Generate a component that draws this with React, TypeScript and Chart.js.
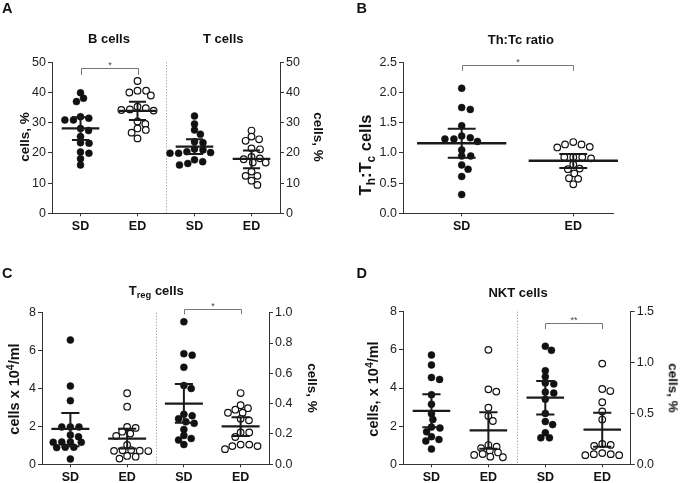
import React, { useEffect, useRef } from "react";
import { Chart, registerables } from "chart.js";
Chart.register(...registerables);

const FONT = '"Liberation Sans", Arial, Helvetica, sans-serif';

// ---------- categories ----------
const fourGroupLabels = ["SD", "ED", "SD", "ED"];
const twoGroupLabels = ["SD", "ED"];

// ---------- Panel A : B cells / T cells (%) ----------
const bCellsSD = [39.9, 38.1, 37.0, 32.0, 31.5, 30.9, 30.9, 28.1, 27.4, 25.4, 23.4, 23.2, 20.3, 19.9, 18.1, 16.0];
const bCellsED = [43.8, 40.6, 40.6, 40.0, 39.0, 35.3, 34.8, 34.4, 34.2, 34.0, 30.4, 29.6, 28.1, 27.6, 26.7, 24.8];
const tCellsSD = [32.2, 29.6, 27.6, 26.2, 23.7, 23.4, 21.3, 21.0, 20.4, 20.1, 19.9, 19.9, 17.7, 17.1, 16.5, 16.0];
const tCellsED = [27.4, 25.4, 24.5, 24.0, 21.5, 21.2, 18.7, 18.2, 17.9, 16.8, 16.8, 13.8, 12.4, 12.4, 10.8, 9.4];
const panelAMean = [28.1, 33.9, 22.1, 18.0];
const panelALow = [24.3, 30.9, 19.6, 14.9];
const panelAHigh = [31.8, 36.9, 24.5, 20.8];

// ---------- Panel B : Th:Tc ratio ----------
const ratioSD = [2.07, 1.75, 1.72, 1.45, 1.28, 1.25, 1.23, 1.23, 1.19, 1.05, 0.95, 0.95, 0.8, 0.73, 0.61, 0.31];
const ratioED = [1.18, 1.14, 1.14, 1.1, 1.09, 0.93, 0.93, 0.93, 0.91, 0.81, 0.74, 0.73, 0.66, 0.58, 0.57, 0.48];
const panelBMean = [1.16, 0.87];
const panelBLow = [0.92, 0.75];
const panelBHigh = [1.4, 0.98];

// ---------- Panel C : Treg cells ----------
const tregCountSD = [6.56, 4.13, 3.36, 1.97, 1.97, 1.97, 1.55, 1.45, 1.18, 1.18, 1.16, 1.16, 0.9, 0.9, 0.88, 0.28];
const tregCountED = [3.75, 3.04, 1.97, 1.92, 1.72, 1.62, 1.5, 1.02, 0.75, 0.74, 0.72, 0.71, 0.7, 0.44, 0.4, 0.3];
const tregPctSD = [0.94, 0.73, 0.72, 0.64, 0.52, 0.5, 0.33, 0.32, 0.3, 0.28, 0.27, 0.23, 0.19, 0.17, 0.16, 0.13];
const tregPctED = [0.47, 0.39, 0.37, 0.36, 0.34, 0.34, 0.3, 0.29, 0.21, 0.21, 0.18, 0.13, 0.13, 0.12, 0.12, 0.1];
const panelCMean = [1.87, 1.35, 0.4, 0.25];
const panelCLow = [0.95, 0.84, 0.274, 0.187];
const panelCHigh = [2.71, 1.88, 0.53, 0.31];

// ---------- Panel D : NKT cells ----------
const nktCountSD = [5.73, 5.21, 4.55, 4.45, 3.65, 3.15, 2.65, 2.35, 1.95, 1.9, 1.7, 1.45, 1.3, 1.22, 0.8];
const nktCountED = [6.0, 3.93, 3.81, 2.97, 2.53, 2.27, 1.01, 0.92, 0.85, 0.71, 0.62, 0.54, 0.49, 0.4, 0.37];
const nktPctSD = [1.16, 1.12, 0.92, 0.86, 0.8, 0.79, 0.71, 0.7, 0.64, 0.5, 0.42, 0.39, 0.31, 0.26, 0.26];
const nktPctED = [0.99, 0.74, 0.72, 0.61, 0.52, 0.44, 0.2, 0.19, 0.18, 0.11, 0.1, 0.1, 0.09, 0.09];
const panelDMean = [2.8, 1.78, 0.655, 0.34];
const panelDLow = [1.94, 0.82, 0.49, 0.173];
const panelDHigh = [3.67, 2.73, 0.82, 0.507];

// ---------- significance brackets ----------
const bracketA = { from: 1, to: 2, level: 48, drop: 2.2, axis: "y", label: "*" };
const bracketB = { from: 1, to: 2, level: 2.455, drop: 0.095, axis: "y", label: "*" };
const bracketC = { from: 3, to: 4, level: 1.024, drop: 0.035, axis: "y2", label: "*" };
const bracketD = { from: 3, to: 4, level: 1.386, drop: 0.056, axis: "y2", label: "**" };

type Group = { values: number[]; cat: number; axis: string; filled: boolean; mean: number; lo: number; hi: number };
type AxisSpec = { min: number; max: number; step: number; decimals: number };
type PanelSpec = {
  left: number; top: number; w: number; h: number;
  padding: { top: number; left: number; right: number; bottom: number };
  xMin: number; xMax: number; labels: string[];
  y: AxisSpec; y2?: AxisSpec;
  groups: Group[]; divider: boolean;
  bracket: { from: number; to: number; level: number; drop: number; axis: string; label: string };
  meanHalf: number; capHalf: number; gapX: number; gapY: number;
};

function makeGroups(vals: number[][], axes: string[], mean: number[], lo: number[], hi: number[]): Group[] {
  return vals.map((v, i) => ({ values: v, cat: i + 1, axis: axes[i], filled: i % 2 === 0, mean: mean[i], lo: lo[i], hi: hi[i] }));
}

const panels: PanelSpec[] = [
  {
    left: 0, top: 0, w: 341, h: 241,
    padding: { top: 62.3, left: 22, right: 31, bottom: 9.7 },
    xMin: 0.5, xMax: 4.5, labels: fourGroupLabels,
    y: { min: 0, max: 50, step: 10, decimals: 0 }, y2: { min: 0, max: 50, step: 10, decimals: 0 },
    groups: makeGroups([bCellsSD, bCellsED, tCellsSD, tCellsED], ["y", "y", "y2", "y2"], panelAMean, panelALow, panelAHigh),
    divider: true, bracket: bracketA, meanHalf: 0.33, capHalf: 0.15, gapX: 8.6, gapY: 5.8,
  },
  {
    left: 341, top: 0, w: 342, h: 241,
    padding: { top: 62.3, left: 32, right: 70, bottom: 9.7 },
    xMin: 0.474, xMax: 2.356, labels: twoGroupLabels,
    y: { min: 0, max: 2.5, step: 0.5, decimals: 1 },
    groups: makeGroups([ratioSD, ratioED], ["y", "y"], panelBMean, panelBLow, panelBHigh),
    divider: false, bracket: bracketB, meanHalf: 0.4, capHalf: 0.125, gapX: 9, gapY: 6,
  },
  {
    left: 0, top: 241, w: 341, h: 242,
    padding: { top: 71.7, left: 12, right: 42, bottom: 0.7 },
    xMin: 0.5, xMax: 4.5, labels: fourGroupLabels,
    y: { min: 0, max: 8, step: 2, decimals: 0 }, y2: { min: 0, max: 1, step: 0.2, decimals: 1 },
    groups: makeGroups([tregCountSD, tregCountED, tregPctSD, tregPctED], ["y", "y", "y2", "y2"], panelCMean, panelCLow, panelCHigh),
    divider: true, bracket: bracketC, meanHalf: 0.335, capHalf: 0.16, gapX: 8.6, gapY: 5.8,
  },
  {
    left: 341, top: 241, w: 342, h: 242,
    padding: { top: 70.7, left: 32, right: 22.3, bottom: 0.7 },
    xMin: 0.5, xMax: 4.5, labels: fourGroupLabels,
    y: { min: 0, max: 8, step: 2, decimals: 0 }, y2: { min: 0, max: 1.5, step: 0.5, decimals: 1 },
    groups: makeGroups([nktCountSD, nktCountED, nktPctSD, nktPctED], ["y", "y", "y2", "y2"], panelDMean, panelDLow, panelDHigh),
    divider: true, bracket: bracketD, meanHalf: 0.33, capHalf: 0.16, gapX: 8.6, gapY: 5.8,
  },
];

// Beeswarm with an elliptical spacing rule: horizontal pixel offsets so dots sit in rows
function beeswarm(py: number[], a: number, b: number): number[] {
  const order = py.map((_, i) => i).sort((p, q) => py[p] - py[q]);
  const placed: { x: number; y: number }[] = [];
  const off = new Array(py.length).fill(0);
  for (const i of order) {
    const y = py[i];
    const cands = [0];
    for (const p of placed) {
      const dy = Math.abs(p.y - y);
      if (dy < b) {
        const dx = a * Math.sqrt(1 - (dy / b) ** 2);
        cands.push(p.x + dx, p.x - dx);
      }
    }
    cands.sort((u, v) => Math.abs(u) - Math.abs(v));
    let best = 0;
    for (const c of cands) {
      if (placed.every((p) => ((p.x - c) / a) ** 2 + ((p.y - y) / b) ** 2 >= 1 - 1e-6)) { best = c; break; }
    }
    placed.push({ x: best, y });
    off[i] = best;
  }
  return off;
}

function axisOpts(a: AxisSpec, position: string) {
  return {
    type: "linear", position, min: a.min, max: a.max,
    afterFit: (s: any) => { s.width = 30; },
    ticks: {
      stepSize: a.step, padding: 2, color: "#222",
      font: { family: FONT, size: 12.5 },
      callback: (v: any) => Number(v).toFixed(a.decimals),
    },
    grid: { drawOnChartArea: false, drawTicks: true, tickLength: 4, color: "#333", tickWidth: 1 },
    border: { display: true, color: "#333", width: 1 },
  };
}

function buildChart(canvas: HTMLCanvasElement, spec: PanelSpec) {
  const datasets = spec.groups.map((g) => ({
    data: g.values.map((v) => ({ x: g.cat, y: v })),
    yAxisID: g.axis,
    pointRadius: g.filled ? 3.5 : 3.3,
    pointBackgroundColor: g.filled ? "#111" : "#fff",
    pointBorderColor: "#111",
    pointBorderWidth: g.filled ? 0.5 : 1.2,
    showLine: false,
  }));

  const decor = {
    id: "decor",
    beforeDatasetsDraw(chart: any) {
      if (!spec.divider) return;
      const { ctx, chartArea, scales } = chart;
      const x = scales.x.getPixelForValue(2.5);
      ctx.save();
      ctx.strokeStyle = "#8a8a8a";
      ctx.lineWidth = 1;
      ctx.setLineDash([1, 2]);
      ctx.beginPath();
      ctx.moveTo(Math.round(x) + 0.5, chartArea.top);
      ctx.lineTo(Math.round(x) + 0.5, chartArea.bottom);
      ctx.stroke();
      ctx.restore();
    },
    afterDatasetsDraw(chart: any) {
      const { ctx, scales } = chart;
      const xs = scales.x;
      ctx.save();
      ctx.strokeStyle = "#1a1a1a";
      ctx.lineCap = "butt";
      for (const g of spec.groups) {
        const ys = scales[g.axis];
        const xc = xs.getPixelForValue(g.cat);
        const xm0 = xs.getPixelForValue(g.cat - spec.meanHalf);
        const xm1 = xs.getPixelForValue(g.cat + spec.meanHalf);
        const xc0 = xs.getPixelForValue(g.cat - spec.capHalf);
        const xc1 = xs.getPixelForValue(g.cat + spec.capHalf);
        const ym = ys.getPixelForValue(g.mean);
        const yl = ys.getPixelForValue(g.lo);
        const yh = ys.getPixelForValue(g.hi);
        ctx.lineWidth = 2.3;
        ctx.beginPath();
        ctx.moveTo(xm0, ym); ctx.lineTo(xm1, ym);
        ctx.stroke();
        ctx.lineWidth = 2;
        ctx.beginPath();
        ctx.moveTo(xc, yl); ctx.lineTo(xc, yh);
        ctx.moveTo(xc0, yl); ctx.lineTo(xc1, yl);
        ctx.moveTo(xc0, yh); ctx.lineTo(xc1, yh);
        ctx.stroke();
      }
      // significance bracket
      const b = spec.bracket;
      const ys = scales[b.axis];
      const x1 = Math.round(xs.getPixelForValue(b.from)) + 0.5;
      const x2 = Math.round(xs.getPixelForValue(b.to)) + 0.5;
      const yt = Math.round(ys.getPixelForValue(b.level)) + 0.5;
      const yb = ys.getPixelForValue(b.level - b.drop);
      ctx.strokeStyle = "#777";
      ctx.lineWidth = 1;
      ctx.beginPath();
      ctx.moveTo(x1, yb); ctx.lineTo(x1, yt); ctx.lineTo(x2, yt); ctx.lineTo(x2, yb);
      ctx.stroke();
      ctx.fillStyle = "#444";
      ctx.font = `9px ${FONT}`;
      ctx.textAlign = "center";
      ctx.textBaseline = "alphabetic";
      ctx.fillText(b.label, (x1 + x2) / 2, yt - 0.5);
      ctx.restore();
    },
  };

  const scales: any = {
    x: {
      type: "linear", position: "bottom", min: spec.xMin, max: spec.xMax,
      afterBuildTicks: (s: any) => { s.ticks = spec.labels.map((_, i) => ({ value: i + 1 })); },
      afterFit: (s: any) => { s.height = 18; },
      ticks: {
        autoSkip: false, maxRotation: 0, padding: 3, color: "#111",
        font: { family: FONT, size: 12.5, weight: "bold" },
        callback: (_v: any, i: number) => spec.labels[i] ?? "",
      },
      grid: { drawOnChartArea: false, drawTicks: true, tickLength: 3, color: "#333" },
      border: { display: true, color: "#333", width: 1 },
    },
    y: axisOpts(spec.y, "left"),
  };
  if (spec.y2) scales.y2 = axisOpts(spec.y2, "right");

  const chart = new Chart(canvas, {
    type: "scatter",
    data: { datasets } as any,
    options: {
      animation: false,
      responsive: false,
      devicePixelRatio: 1,
      events: [],
      layout: { padding: spec.padding },
      plugins: { legend: { display: false }, tooltip: { enabled: false }, title: { display: false } },
      scales,
    } as any,
    plugins: [decor],
  });

  // spread points horizontally (beeswarm) using the chart's own scales
  const xs: any = chart.scales.x;
  const unit = xs.getPixelForValue(2) - xs.getPixelForValue(1);
  spec.groups.forEach((g, gi) => {
    const ys: any = (chart.scales as any)[g.axis];
    const py = g.values.map((v) => ys.getPixelForValue(v));
    const off = beeswarm(py, spec.gapX, spec.gapY);
    (chart.data.datasets[gi] as any).data = g.values.map((v, i) => ({ x: g.cat + off[i] / unit, y: v }));
  });
  chart.update("none");
  return chart;
}

function Panel({ spec }: { spec: PanelSpec }) {
  const ref = useRef<HTMLCanvasElement>(null);
  useEffect(() => {
    const chart = buildChart(ref.current!, spec);
    return () => chart.destroy();
  }, [spec]);
  return (
    <canvas
      ref={ref}
      width={spec.w}
      height={spec.h}
      style={{ position: "absolute", left: spec.left, top: spec.top, width: spec.w, height: spec.h }}
    />
  );
}

type Seg = { t: string; sub?: boolean; sup?: boolean };
type Label = { segs: Seg[]; x: number; y: number; size: number; rot?: number; align?: "left" | "center" };

const labels: Label[] = [
  { segs: [{ t: "A" }], x: 2, y: 8, size: 14.5, align: "left" },
  { segs: [{ t: "B" }], x: 356.5, y: 8.3, size: 14.5, align: "left" },
  { segs: [{ t: "C" }], x: 2, y: 273.3, size: 14.5, align: "left" },
  { segs: [{ t: "D" }], x: 356.5, y: 273.3, size: 14.5, align: "left" },
  { segs: [{ t: "B cells" }], x: 109, y: 38, size: 13 },
  { segs: [{ t: "T cells" }], x: 223.3, y: 38, size: 13 },
  { segs: [{ t: "Th:Tc ratio" }], x: 520.8, y: 39, size: 13 },
  { segs: [{ t: "T" }, { t: "reg", sub: true }, { t: " cells" }], x: 156.3, y: 291, size: 13 },
  { segs: [{ t: "NKT cells" }], x: 518, y: 291.7, size: 13 },
  { segs: [{ t: "cells, %" }], x: 25, y: 137.3, size: 13.5, rot: -90 },
  { segs: [{ t: "cells, %" }], x: 318.3, y: 137.3, size: 13.5, rot: 90 },
  { segs: [{ t: "T" }, { t: "h", sub: true }, { t: ":T" }, { t: "c", sub: true }, { t: " cells" }], x: 365, y: 155, size: 16.5, rot: -90 },
  { segs: [{ t: "cells x 10" }, { t: "4", sup: true }, { t: "/ml" }], x: 14, y: 388.5, size: 14.5, rot: -90 },
  { segs: [{ t: "cells, %" }], x: 311.7, y: 388.3, size: 13.5, rot: 90 },
  { segs: [{ t: "cells, x 10" }, { t: "4", sup: true }, { t: "/ml" }], x: 373.3, y: 389, size: 14.5, rot: -90 },
  { segs: [{ t: "cells, %" }], x: 673.3, y: 388, size: 13.5, rot: 90 },
];

function TextLabel({ l }: { l: Label }) {
  const base = l.align === "left" ? "translate(0,-50%)" : "translate(-50%,-50%)";
  const style: React.CSSProperties = {
    position: "absolute", left: l.x, top: l.y, fontFamily: FONT, fontSize: l.size, fontWeight: 700,
    lineHeight: 1, whiteSpace: "nowrap", color: "#111",
    transform: base + (l.rot ? ` rotate(${l.rot}deg)` : ""),
  };
  return (
    <div style={style}>
      {l.segs.map((s, i) =>
        s.sub ? (
          <span key={i} style={{ fontSize: "0.72em", position: "relative", top: "0.3em" }}>{s.t}</span>
        ) : s.sup ? (
          <span key={i} style={{ fontSize: "0.72em", position: "relative", top: "-0.45em" }}>{s.t}</span>
        ) : (
          <span key={i}>{s.t}</span>
        )
      )}
    </div>
  );
}

export default function App() {
  return (
    <div style={{ position: "absolute", left: 0, top: 0, width: 683, height: 483, background: "#fff", overflow: "hidden" }}>
      {panels.map((p, i) => (
        <Panel key={i} spec={p} />
      ))}
      {labels.map((l, i) => (
        <TextLabel key={i} l={l} />
      ))}
    </div>
  );
}
